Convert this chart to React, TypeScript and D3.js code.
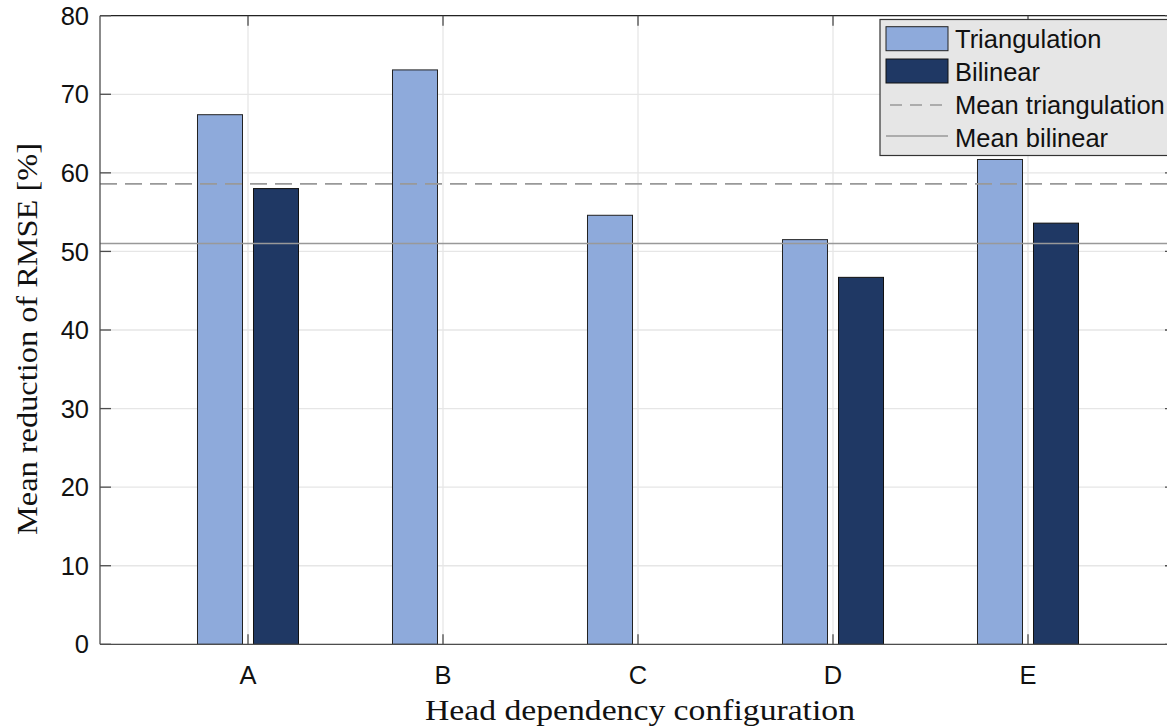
import React from "react";
import * as d3 from "d3";

const categories = ["A", "B", "C", "D", "E"];
const triangulation = [67.4, 73.1, 54.6, 51.5, 61.7];
const bilinear: (number | null)[] = [58.0, null, null, 46.7, 53.6];
const meanTriangulation = 58.6;
const meanBilinear = 51.0;
const yTicks = [0, 10, 20, 30, 40, 50, 60, 70, 80];
const legendLabels = ["Triangulation", "Bilinear", "Mean triangulation", "Mean bilinear"];

const W = 1167;
const H = 728;
const left = 100;
const right = 1176;
const top = 15.7;
const bottom = 644.3;

const triColor = "#8eaadb";
const bilColor = "#1f3864";
const gridColor = "#e6e6e6";
const axisColor = "#4d4d4d";
const meanColor = "#999999";

export default function App() {
  const x = d3.scaleLinear().domain([1, 5]).range([248, 1028]);
  const y = d3.scaleLinear().domain([0, 80]).range([bottom, top]);
  const off = 0.1436;
  const bw = x(1.2308) - x(1);
  const sans = "'Liberation Sans', Arial, sans-serif";
  const serif = "'Liberation Serif', 'Times New Roman', serif";

  return (
    <svg width={W} height={H} style={{ position: "absolute", left: 0, top: 0, background: "#fff" }}>
      {yTicks.map((t) => (
        <line key={"gy" + t} x1={left} x2={right} y1={y(t)} y2={y(t)} stroke={gridColor} strokeWidth={1.3} />
      ))}
      {categories.map((c, i) => (
        <line key={"gx" + c} x1={x(i + 1)} x2={x(i + 1)} y1={top} y2={bottom} stroke={gridColor} strokeWidth={1.3} />
      ))}
      {triangulation.map((v, i) => (
        <rect key={"t" + i} x={x(i + 1 - off) - bw / 2} y={y(v)} width={bw} height={y(0) - y(v)}
          fill={triColor} stroke="#222" strokeWidth={1} />
      ))}
      {bilinear.map((v, i) =>
        v == null ? null : (
          <rect key={"b" + i} x={x(i + 1 + off) - bw / 2} y={y(v)} width={bw} height={y(0) - y(v)}
            fill={bilColor} stroke="#111" strokeWidth={1} />
        )
      )}
      <line x1={left} x2={right} y1={y(meanTriangulation)} y2={y(meanTriangulation)}
        stroke={meanColor} strokeWidth={1.6} strokeDasharray="17 8" />
      <line x1={left} x2={right} y1={y(meanBilinear)} y2={y(meanBilinear)}
        stroke={meanColor} strokeWidth={1.6} />
      <line x1={left} x2={right} y1={top} y2={top} stroke="#222" strokeWidth={1.2} />
      <line x1={left} x2={right} y1={bottom} y2={bottom} stroke={axisColor} strokeWidth={1.3} />
      <line x1={left} x2={left} y1={top} y2={bottom} stroke={axisColor} strokeWidth={1.3} />
      <line x1={right} x2={right} y1={top} y2={bottom} stroke={axisColor} strokeWidth={1.3} />
      {yTicks.map((t) => (
        <g key={"ty" + t}>
          <line x1={left} x2={left + 11} y1={y(t)} y2={y(t)} stroke={axisColor} strokeWidth={1.3} />
          <line x1={right - 11} x2={right} y1={y(t)} y2={y(t)} stroke={axisColor} strokeWidth={1.3} />
          <text x={89} y={y(t)} dy="0.36em" textAnchor="end" fontFamily={sans} fontSize={25.5} fill="#111">{t}</text>
        </g>
      ))}
      {categories.map((c, i) => (
        <g key={"tx" + c}>
          <line x1={x(i + 1)} x2={x(i + 1)} y1={bottom} y2={bottom - 10} stroke={axisColor} strokeWidth={1.3} />
          <line x1={x(i + 1)} x2={x(i + 1)} y1={top} y2={top + 10} stroke={axisColor} strokeWidth={1.3} />
          <text x={x(i + 1)} y={684} textAnchor="middle" fontFamily={sans} fontSize={25.5} fill="#111">{c}</text>
        </g>
      ))}
      <text x={640} y={720} textAnchor="middle" fontFamily={serif} fontSize={30} fill="#111"
        textLength={430} lengthAdjust="spacingAndGlyphs">Head dependency configuration</text>
      <text transform={`translate(37,${339}) rotate(-90)`} textAnchor="middle" fontFamily={serif} fontSize={30} fill="#111"
        textLength={392} lengthAdjust="spacingAndGlyphs">Mean reduction of RMSE [%]</text>
      <g>
        <rect x={880} y={19.5} width={300} height={136} fill="#e6e6e6" stroke="#333" strokeWidth={1.2} />
        <rect x={886} y={26.7} width={62} height={24} fill={triColor} stroke="#222" strokeWidth={1} />
        <rect x={886} y={59} width={62} height={24} fill={bilColor} stroke="#111" strokeWidth={1} />
        <line x1={886} x2={948} y1={105} y2={105} stroke={meanColor} strokeWidth={1.6} strokeDasharray="12 8" strokeDashoffset={-4} />
        <line x1={886} x2={948} y1={136} y2={136} stroke={meanColor} strokeWidth={1.6} />
        {legendLabels.map((l, i) => (
          <text key={l} x={955} y={48 + i * 33} fontFamily={sans} fontSize={25.5} fill="#111">{l}</text>
        ))}
      </g>
    </svg>
  );
}
